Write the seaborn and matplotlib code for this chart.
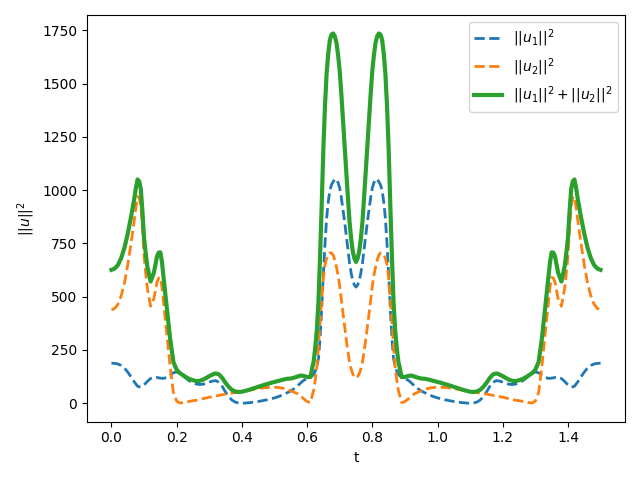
import numpy as np
import pandas as pd
import matplotlib
matplotlib.use("Agg")
import matplotlib.pyplot as plt
import seaborn as sns

t = np.round(np.arange(151) * 0.01, 2)

u1_sq = [
    188, 187, 184, 177, 165, 146, 124, 100, 80, 76,
    86, 102, 116, 122, 121, 118, 117, 121, 132, 143,
    147, 140, 128, 115, 104, 96, 90, 88, 89, 93,
    99, 104, 106, 98, 78, 52, 30, 14, 5, 1,
    0, 1, 2, 4, 6, 8, 11, 14, 17, 21,
    25, 30, 36, 43, 50, 58, 68, 80, 95, 108,
    115, 120, 135, 175, 310, 610, 870, 1000, 1040, 1052,
    1010, 910, 790, 660, 575, 545,
    575, 660, 790, 910, 1010,
    1052, 1040, 1000, 870, 610, 310, 175, 135, 120, 115,
    108, 95, 80, 68, 58, 50, 43, 36, 30, 25,
    21, 17, 14, 11, 8, 6, 4, 2, 1, 0,
    1, 5, 14, 30, 52, 78, 98, 106, 104, 99,
    93, 89, 88, 90, 96, 104, 115, 128, 140, 147,
    143, 132, 121, 117, 118, 121, 122, 116, 102, 86,
    76, 80, 100, 124, 146, 165, 177, 184, 187, 188,
]

u2_sq = [
    438, 445, 465, 505, 565, 650, 750, 860, 970, 930,
    690, 540, 455, 490, 570, 590, 470, 325, 170, 50,
    10, 1, 3, 6, 9, 12, 14, 17, 21, 25,
    28, 31, 34, 37, 40, 43, 46, 48, 50, 52,
    54, 57, 60, 63, 66, 69, 71, 73, 74, 75,
    75, 74, 72, 69, 65, 58, 52, 45, 35, 20,
    8, 3, 60, 170, 390, 590, 680, 706, 695, 640,
    550, 420, 300, 195, 138, 118,
    138, 195, 300, 420, 550,
    640, 695, 706, 680, 590, 390, 170, 60, 3, 8,
    20, 35, 45, 52, 58, 65, 69, 72, 74, 75,
    75, 74, 73, 71, 69, 66, 63, 60, 57, 54,
    52, 50, 48, 46, 43, 40, 37, 34, 31, 28,
    25, 21, 17, 14, 12, 9, 6, 3, 1, 10,
    50, 170, 325, 470, 590, 570, 490, 455, 540, 690,
    930, 970, 860, 750, 650, 565, 505, 465, 445, 438,
]

# extra samples where the curves bend sharply
t_extra = [
    0.075, 0.085, 0.095, 0.105, 0.145, 0.155,
    0.625, 0.635, 0.645, 0.655, 0.665, 0.675, 0.685,
    0.695, 0.705, 0.715, 0.725, 0.735, 0.745,
    0.755, 0.765, 0.775, 0.785, 0.795, 0.805, 0.815,
    0.825, 0.835, 0.845, 0.855, 0.865, 0.875,
    1.345, 1.355, 1.395, 1.405, 1.415, 1.425,
]
u1_extra = [
    90, 77, 80, 94, 119, 117,
    150, 210, 450, 750, 945, 1025, 1050,
    1035, 965, 852, 725, 612, 555,
    555, 612, 725, 852, 965, 1035, 1050,
    1025, 945, 750, 450, 210, 150,
    117, 119, 94, 80, 77, 90,
]
u2_extra = [
    920, 965, 820, 610, 588, 545,
    110, 270, 490, 650, 698, 705, 672,
    600, 487, 360, 245, 162, 125,
    125, 162, 245, 360, 487, 600, 672,
    705, 698, 650, 490, 270, 110,
    545, 588, 610, 820, 965, 920,
]

labels = [r"$||u_1||^2$", r"$||u_2||^2$", r"$||u_1||^2 + ||u_2||^2$"]

df = pd.concat([
    pd.DataFrame({"t": t, "u1": u1_sq, "u2": u2_sq}),
    pd.DataFrame({"t": t_extra, "u1": u1_extra, "u2": u2_extra}),
]).sort_values("t").reset_index(drop=True)
df["total"] = df["u1"] + df["u2"]

fig, ax = plt.subplots(figsize=(6.4, 4.8), dpi=100)
sns.lineplot(data=df, x="t", y="u1", ax=ax, color="C0", linestyle="--", linewidth=2, label=labels[0])
sns.lineplot(data=df, x="t", y="u2", ax=ax, color="C1", linestyle="--", linewidth=2, label=labels[1])
sns.lineplot(data=df, x="t", y="total", ax=ax, color="C2", linestyle="-", linewidth=3, label=labels[2])

ax.set_xlabel("t")
ax.set_ylabel(r"$||u||^2$")
ax.set_yticks([0, 250, 500, 750, 1000, 1250, 1500, 1750])
ax.legend(loc="upper right")
fig.tight_layout()
fig.savefig("out.png", dpi=100)
